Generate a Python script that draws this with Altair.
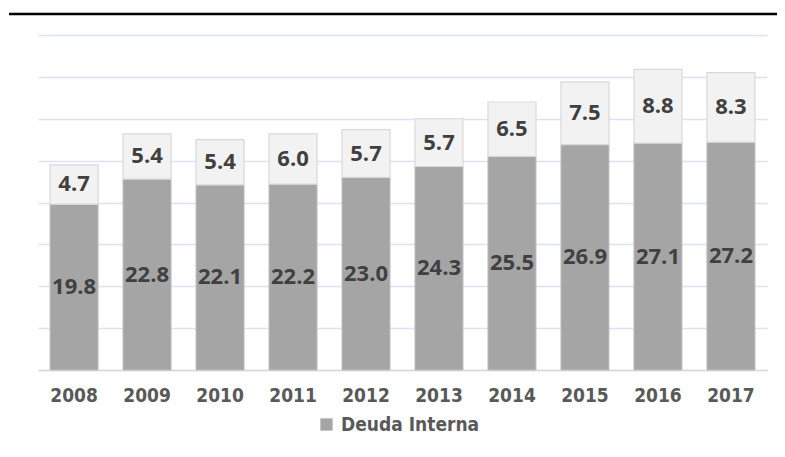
import altair as alt
import pandas as pd

years = ["2008", "2009", "2010", "2011", "2012", "2013", "2014", "2015", "2016", "2017"]
interna = [19.8, 22.8, 22.1, 22.2, 23.0, 24.3, 25.5, 26.9, 27.1, 27.2]
externa = [4.7, 5.4, 5.4, 6.0, 5.7, 5.7, 6.5, 7.5, 8.8, 8.3]
serie_label = "Deuda Interna"

df = pd.DataFrame({"year": years, "interna": interna, "externa": externa})
df["serie"] = serie_label

LABEL_FONT = "Open Sans"
AXIS_FONT = "DejaVu Sans Condensed"

x_enc = alt.X(
    "year:N",
    title=None,
    sort=years,
    scale=alt.Scale(paddingInner=0.342, paddingOuter=0.165),
    axis=alt.Axis(
        labelAngle=0,
        labelFont=AXIS_FONT,
        labelFontSize=19,
        labelFontWeight="bold",
        labelColor="#595959",
        labelPadding=16,
        ticks=False,
        domainColor="#d9d9d9",
        domainWidth=1.5,
        grid=False,
    ),
)
y_scale = alt.Scale(domain=[0, 40], nice=False, zero=True)
y_axis = alt.Axis(
    values=[0, 5, 10, 15, 20, 25, 30, 35, 40],
    labels=False,
    ticks=False,
    domain=False,
    title=None,
    grid=True,
    gridColor="#dae3f3",
    gridWidth=1.5,
)

base = alt.Chart(df).transform_calculate(
    total="datum.interna + datum.externa",
    mid_in="datum.interna / 2",
    mid_ex="datum.interna + datum.externa / 2",
)

bottom = base.mark_bar(stroke="#bfbfbf", strokeWidth=1).encode(
    x=x_enc,
    y=alt.Y("interna:Q", scale=y_scale, axis=y_axis),
    color=alt.Color(
        "serie:N",
        scale=alt.Scale(domain=[serie_label], range=["#a5a5a5"]),
        legend=alt.Legend(
            title=None,
            orient="none",
            legendX=279,
            legendY=380,
            symbolType="square",
            symbolSize=150,
            symbolStrokeWidth=0,
            labelFont=AXIS_FONT,
            labelFontSize=19,
            labelFontWeight="bold",
            labelColor="#595959",
            labelOffset=5,
        ),
    ),
)

top = base.mark_bar(color="#f2f2f2", stroke="#d9d9d9", strokeWidth=1.2).encode(
    x=alt.X("year:N", sort=years),
    y=alt.Y("interna:Q", scale=y_scale),
    y2="total:Q",
)

text_style = dict(
    font=LABEL_FONT,
    fontSize=22,
    fontWeight="bold",
    color="#404040",
    baseline="middle",
    align="center",
)

lab_in = base.mark_text(**text_style).encode(
    x=alt.X("year:N", sort=years),
    y=alt.Y("mid_in:Q", scale=y_scale),
    text=alt.Text("interna:Q", format=".1f"),
)
lab_ex = base.mark_text(**text_style).encode(
    x=alt.X("year:N", sort=years),
    y=alt.Y("mid_ex:Q", scale=y_scale),
    text=alt.Text("externa:Q", format=".1f"),
)

top_line = alt.Chart(pd.DataFrame({"a": [0]})).mark_rule(
    color="black", strokeWidth=2.5
).encode(x=alt.value(-29), x2=alt.value(739), y=alt.value(-21))

chart = (
    alt.layer(bottom, top, lab_in, lab_ex, top_line)
    .properties(
        width=729,
        height=335,
        padding={"left": 30, "top": 27, "right": 10, "bottom": 79},
        autosize=alt.AutoSizeParams(type="none"),
        view=alt.ViewBackground(stroke="transparent", strokeWidth=0),
    )
    .configure_view(stroke="transparent", strokeWidth=0)
    .configure(background="white")
)

chart.save("out.html", embed_options={"renderer": "svg", "actions": False})
